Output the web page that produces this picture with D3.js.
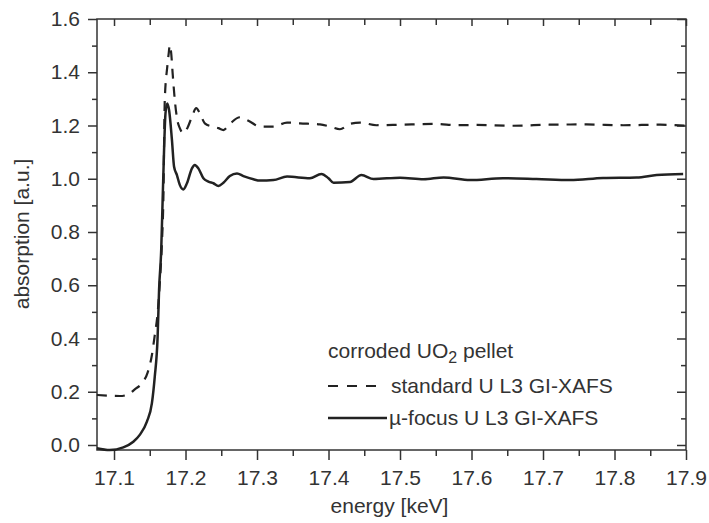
<!DOCTYPE html>
<html>
<head>
<meta charset="utf-8">
<script src="https://cdn.jsdelivr.net/npm/d3@7"></script>
<style>
  body { margin: 0; background: #fff; }
  svg text { font-family: "Liberation Sans", Arial, sans-serif; fill: #333; }
</style>
</head>
<body>
<div id="chart"></div>
<script>
// tick labels
const xTicks = [17.1, 17.2, 17.3, 17.4, 17.5, 17.6, 17.7, 17.8, 17.9];
const yTicks = [0.0, 0.2, 0.4, 0.6, 0.8, 1.0, 1.2, 1.4, 1.6];

// standard U L3 GI-XAFS (dashed)
const stdEnergy = [17.076, 17.108, 17.120, 17.129, 17.139, 17.147, 17.153, 17.157, 17.161, 17.164, 17.167, 17.169,
  17.171, 17.1745, 17.1765, 17.178, 17.180, 17.182, 17.185, 17.1885, 17.192, 17.197, 17.2025, 17.209, 17.215,
  17.220, 17.227, 17.237, 17.246, 17.253, 17.262, 17.276, 17.288, 17.304, 17.323, 17.342, 17.360, 17.388,
  17.402, 17.416, 17.430, 17.444, 17.467, 17.500, 17.551, 17.579, 17.607, 17.658, 17.710, 17.761, 17.812,
  17.864, 17.900];
const stdAbs = [0.188, 0.184, 0.190, 0.209, 0.232, 0.272, 0.338, 0.413, 0.495, 0.607, 0.758, 0.920,
  1.296, 1.421, 1.471, 1.502, 1.471, 1.396, 1.296, 1.221, 1.190, 1.171, 1.190, 1.233, 1.265,
  1.246, 1.208, 1.196, 1.190, 1.183, 1.206, 1.231, 1.218, 1.196, 1.196, 1.211, 1.208, 1.204,
  1.196, 1.186, 1.206, 1.211, 1.201, 1.203, 1.206, 1.201, 1.202, 1.199, 1.203, 1.204, 1.201,
  1.203, 1.199];

// µ-focus U L3 GI-XAFS (solid)
const muEnergy = [17.076, 17.094, 17.113, 17.127, 17.136, 17.146, 17.153, 17.157, 17.161, 17.163, 17.166, 17.168,
  17.170, 17.172, 17.1745, 17.177, 17.181, 17.184, 17.188, 17.192, 17.197, 17.202, 17.209, 17.213, 17.218,
  17.225, 17.232, 17.239, 17.246, 17.253, 17.262, 17.272, 17.281, 17.295, 17.304, 17.323, 17.342, 17.374,
  17.390, 17.400, 17.407, 17.430, 17.446, 17.463, 17.500, 17.533, 17.561, 17.598, 17.644, 17.691, 17.738,
  17.784, 17.831, 17.859, 17.896];
const muAbs = [-0.012, -0.019, -0.009, 0.012, 0.038, 0.088, 0.157, 0.257, 0.407, 0.582, 0.732, 0.920,
  1.108, 1.246, 1.283, 1.258, 1.146, 1.045, 1.014, 0.977, 0.960, 0.983, 1.039, 1.052, 1.039,
  1.002, 0.989, 0.983, 0.973, 0.985, 1.010, 1.020, 1.010, 0.998, 0.993, 0.995, 1.008, 1.002,
  1.018, 1.002, 0.985, 0.988, 1.014, 0.999, 1.004, 0.998, 1.005, 0.995, 1.002, 0.999, 0.995,
  1.003, 1.005, 1.014, 1.018];

const W = 709, H = 523;
const margin = { top: 19, right: 23, bottom: 73, left: 97 };
const width = W - margin.left - margin.right;
const height = H - margin.top - margin.bottom;

const svg = d3.select("#chart").append("svg")
  .attr("width", W).attr("height", H);

const g = svg.append("g").attr("transform", `translate(${margin.left},${margin.top})`);

const x = d3.scaleLinear().domain([17.0762, 17.9]).range([0, width]);
const y = d3.scaleLinear().domain([-0.0188, 1.6]).range([height, 0]);

const xMinor = d3.range(17.15, 17.9, 0.1);
const yMinor = d3.range(0.1, 1.6, 0.2);
const fmt = d3.format(".1f");

// axes
function styleAxis(sel) {
  sel.select(".domain").remove();
  sel.selectAll("line").attr("stroke", "#333").attr("stroke-width", 1.5);
  sel.selectAll("text").attr("font-size", 21).attr("fill", "#333");
}

g.append("g").attr("transform", `translate(0,${height})`)
  .call(d3.axisBottom(x).tickValues(xTicks).tickFormat(fmt).tickSize(10).tickPadding(10))
  .call(styleAxis);
g.append("g").attr("transform", `translate(0,${height})`)
  .call(d3.axisBottom(x).tickValues(xMinor).tickFormat("").tickSize(6))
  .call(styleAxis);
g.append("g")
  .call(d3.axisTop(x).tickValues(xTicks).tickFormat("").tickSize(-7))
  .call(styleAxis);
g.append("g")
  .call(d3.axisTop(x).tickValues(xMinor).tickFormat("").tickSize(-6))
  .call(styleAxis);

g.append("g")
  .call(d3.axisLeft(y).tickValues(yTicks).tickFormat(fmt).tickSize(9).tickPadding(8))
  .call(styleAxis);
g.append("g")
  .call(d3.axisLeft(y).tickValues(yMinor).tickFormat("").tickSize(5))
  .call(styleAxis);
g.append("g").attr("transform", `translate(${width},0)`)
  .call(d3.axisRight(y).tickValues(yTicks).tickFormat("").tickSize(-9))
  .call(styleAxis);
g.append("g").attr("transform", `translate(${width},0)`)
  .call(d3.axisRight(y).tickValues(yMinor).tickFormat("").tickSize(-5))
  .call(styleAxis);

// frame
g.append("rect")
  .attr("width", width).attr("height", height)
  .attr("fill", "none").attr("stroke", "#333").attr("stroke-width", 1.5);

// curves
const line = d3.line()
  .x(d => x(d[0])).y(d => y(d[1]))
  .curve(d3.curveMonotoneX);

const stdData = stdEnergy.map((e, i) => [e, stdAbs[i]]);
const muData = muEnergy.map((e, i) => [e, muAbs[i]]);

g.append("path").datum(stdData)
  .attr("d", line)
  .attr("fill", "none").attr("stroke", "#222").attr("stroke-width", 2.2)
  .attr("stroke-dasharray", "10,8");

g.append("path").datum(muData)
  .attr("d", line)
  .attr("fill", "none").attr("stroke", "#222").attr("stroke-width", 2.5);

// axis titles
svg.append("text")
  .attr("x", margin.left + width / 2 - 2).attr("y", 513)
  .attr("text-anchor", "middle").attr("font-size", 21)
  .text("energy [keV]");

svg.append("text")
  .attr("transform", "translate(29,234) rotate(-90)")
  .attr("text-anchor", "middle").attr("font-size", 21)
  .text("absorption [a.u.]");

// legend
const leg = svg.append("g");
const title = leg.append("text").attr("x", 328).attr("y", 358).attr("font-size", 21);
title.append("tspan").text("corroded UO");
title.append("tspan").attr("font-size", 16).attr("dy", 5).text("2");
title.append("tspan").attr("dy", -5).text(" pellet");

leg.append("line")
  .attr("x1", 328).attr("x2", 378).attr("y1", 386).attr("y2", 386)
  .attr("stroke", "#222").attr("stroke-width", 2.2).attr("stroke-dasharray", "10,9");
leg.append("text").attr("x", 391).attr("y", 393).attr("font-size", 21)
  .text("standard U L3 GI-XAFS");

leg.append("line")
  .attr("x1", 328).attr("x2", 387).attr("y1", 418).attr("y2", 418)
  .attr("stroke", "#222").attr("stroke-width", 2.5);
leg.append("text").attr("x", 389).attr("y", 425).attr("font-size", 21)
  .text("µ-focus U L3 GI-XAFS");
</script>
</body>
</html>
